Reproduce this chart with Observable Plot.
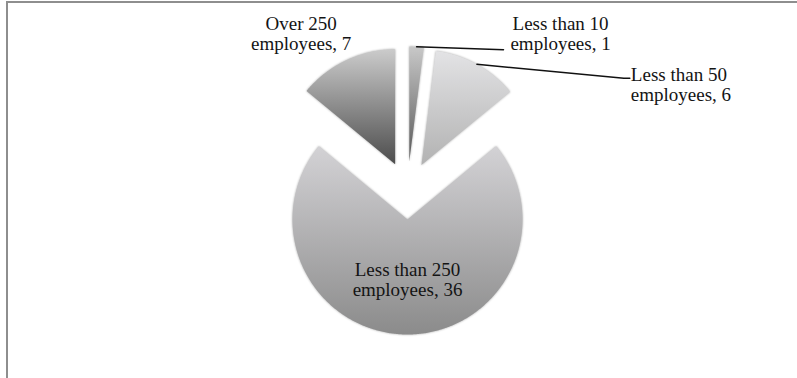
<!DOCTYPE html>
<html>
<head>
<meta charset="utf-8">
<script src="https://cdn.jsdelivr.net/npm/d3@7"></script>
<script src="https://cdn.jsdelivr.net/npm/@observablehq/plot@0.6"></script>
<style>
  html, body { margin: 0; padding: 0; background: #fff; }
  #wrap { position: relative; width: 797px; height: 378px; overflow: hidden; }
  #border { position: absolute; left: 6px; top: 1px; width: 820px; height: 420px;
            border-top: 2px solid #8e8e8e; border-left: 2px solid #8e8e8e; pointer-events: none; }
  #wrap svg g[aria-label="line"].slice path,
  #wrap svg g.slice path { filter: drop-shadow(0 0 1.3px rgba(0,0,0,0.35)); }
</style>
</head>
<body>
<div id="wrap"><div id="border"></div></div>
<script>
// ---- data ----
const categories = ["Less than 10 employees", "Less than 50 employees", "Less than 250 employees", "Over 250 employees"];
const values = [1, 6, 36, 7];

// ---- styles (not data) ----
const gradTop    = ["#c8c8c8", "#e3e3e5", "#d3d2d5", "#cbcbcb"];
const gradBottom = ["#585858", "#b2b2b2", "#8b8b8b", "#4c4c4c"];

// ---- layout ----
const W = 797, H = 378, CX = 407, CY = 190, R = 115, EXPLODE = 29 / R;
const font = "'Liberation Serif', 'Times New Roman', serif";

const arcs = d3.pie().sort(null).value(d => d)(values);

// slice polygons in radius units (y up)
const slices = arcs.map((a, i) => {
  const mid = (a.startAngle + a.endAngle) / 2;
  const ox = Math.sin(mid) * EXPLODE, oy = Math.cos(mid) * EXPLODE;
  const pts = [{x: ox, y: oy}];
  const n = Math.max(4, Math.ceil((a.endAngle - a.startAngle) / 0.01));
  for (let k = 0; k <= n; k++) {
    const t = a.startAngle + (a.endAngle - a.startAngle) * k / n;
    pts.push({x: ox + Math.sin(t), y: oy + Math.cos(t)});
  }
  return {
    i, pts, mid,
    apex: {x: ox, y: oy},
    outer: {x: ox + Math.sin(mid), y: oy + Math.cos(mid)},
    label: categories[i].replace(" employees", "\nemployees") + ", " + values[i]
  };
});

// label offsets (pixels) relative to outer arc midpoint of each slice
const labelOffsets = [
  {dx: 144, dy: -13, anchor: "middle"},
  {dx: 154, dy: 20, anchor: "start"},
  {dx: 0, dy: -55, anchor: "middle"},
  {dx: -45, dy: -27, anchor: "middle"}
];
// leader lines (pixel offsets from outer arc midpoint)
const leaderOffsets = [
  [[0, 0], [87, 3]],
  [[0, 0], [147, 14], [153, 14]],
  null,
  null
];

const marks = [];
slices.forEach(s => {
  marks.push(Plot.line(s.pts, {x: "x", y: "y", fill: `url(#grad${s.i})`, stroke: "none", curve: "linear"}));
});
slices.forEach((s, i) => {
  const lo = leaderOffsets[i];
  if (!lo) return;
  const pts = lo.map(([dx, dy]) => ({x: s.outer.x + dx / R, y: s.outer.y - dy / R}));
  marks.push(Plot.line(pts, {x: "x", y: "y", stroke: "#111", strokeWidth: 1.4}));
});
slices.forEach((s, i) => {
  const o = labelOffsets[i];
  marks.push(Plot.text([s], {
    x: d => d.outer.x, y: d => d.outer.y, text: "label",
    dx: o.dx, dy: o.dy, textAnchor: o.anchor, lineAnchor: "middle", lineHeight: 1.07,
    fontSize: 19, fontFamily: font, fill: "#141414"
  }));
});

const chart = Plot.plot({
  width: W, height: H,
  margin: 0,
  x: {domain: [(0 - CX) / R, (W - CX) / R], axis: null},
  y: {domain: [(CY - H) / R, CY / R], axis: null},
  style: {background: "transparent", overflow: "visible"},
  marks
});

// gradients
const defs = d3.create("svg:defs");
slices.forEach(s => {
  const g = defs.append("linearGradient").attr("id", `grad${s.i}`)
    .attr("x1", 0).attr("y1", 0).attr("x2", 0).attr("y2", 1);
  g.append("stop").attr("offset", "0%").attr("stop-color", gradTop[s.i]);
  g.append("stop").attr("offset", "100%").attr("stop-color", gradBottom[s.i]);
});
chart.insertBefore(defs.node(), chart.firstChild);
// tag slice groups for a soft edge shadow
d3.select(chart).selectAll('g[aria-label="line"]').each(function(_, k) {
  if (k < slices.length) d3.select(this).classed("slice", true);
});
document.getElementById("wrap").insertBefore(chart, document.getElementById("border"));
</script>
</body>
</html>
